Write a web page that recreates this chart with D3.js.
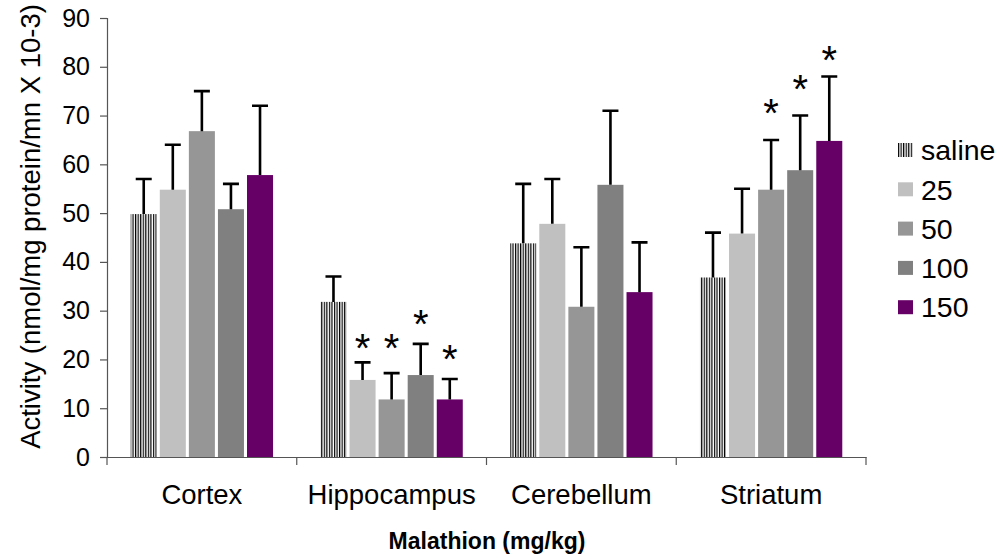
<!DOCTYPE html>
<html>
<head>
<meta charset="utf-8">
<script src="https://cdn.jsdelivr.net/npm/d3@7"></script>
<style>
  body { margin: 0; background: #fff; }
  text { font-family: Arial, "Liberation Sans", sans-serif; }
</style>
</head>
<body>
<div id="chart"></div>
<script>
// categories and series
var regions = ["Cortex", "Hippocampus", "Cerebellum", "Striatum"];
var doses = ["saline", "25", "50", "100", "150"];

// mean activity per dose, one value per region
var saline = [49.8, 31.8, 43.8, 36.8];
var dose25 = [54.8, 15.8, 47.8, 45.8];
var dose50 = [66.8, 11.8, 30.8, 54.8];
var dose100 = [50.8, 16.8, 55.8, 58.8];
var dose150 = [57.8, 11.8, 33.8, 64.8];

// standard deviation (upper error bar)
var sdSaline = [7.2, 5.2, 12.2, 9.2];
var sd25 = [9.2, 3.6, 9.2, 9.2];
var sd50 = [8.2, 5.4, 12.2, 10.2];
var sd100 = [5.2, 6.4, 15.2, 11.2];
var sd150 = [14.2, 4.2, 10.2, 13.2];

// significance marks: region, dose, height of the asterisk
var stars = [
  {region: "Hippocampus", dose: "25", y: 23.6},
  {region: "Hippocampus", dose: "50", y: 23.6},
  {region: "Hippocampus", dose: "100", y: 28.5},
  {region: "Hippocampus", dose: "150", y: 21.3},
  {region: "Striatum", dose: "50", y: 71.7},
  {region: "Striatum", dose: "100", y: 76.6},
  {region: "Striatum", dose: "150", y: 82.6}
];

var yTicks = [0, 10, 20, 30, 40, 50, 60, 70, 80, 90];

var means = [saline, dose25, dose50, dose100, dose150];
var sds = [sdSaline, sd25, sd50, sd100, sd150];
var colors = ["url(#stripes)", "#c0c0c0", "#969696", "#808080", "#660066"];

var data = [];
regions.forEach(function(r, i) {
  doses.forEach(function(d, j) {
    data.push({region: r, dose: d, value: means[j][i], sd: sds[j][i], fill: colors[j]});
  });
});

var margin = {top: 18, right: 137, bottom: 102, left: 107},
    width = 1003 - margin.left - margin.right,
    height = 559 - margin.top - margin.bottom;

var svg = d3.select("#chart").append("svg")
  .attr("width", 1003)
  .attr("height", 559);

var defs = svg.append("defs");
var pat = defs.append("pattern")
  .attr("id", "stripes")
  .attr("patternUnits", "userSpaceOnUse")
  .attr("width", 2.55)
  .attr("height", 10);
pat.append("rect").attr("width", 2.55).attr("height", 10).attr("fill", "#fff");
pat.append("rect").attr("width", 1.2).attr("height", 10).attr("fill", "#000");

var g = svg.append("g")
  .attr("transform", "translate(" + margin.left + "," + margin.top + ")");

var x0 = d3.scaleBand().domain(regions).range([0, width]).padding(0);
var x1 = d3.scaleBand().domain(doses)
  .range([x0.bandwidth() * 0.125, x0.bandwidth() * 0.875])
  .paddingInner(0.105);
var y = d3.scaleLinear().domain([0, 90]).range([height, 0]);

// bars
g.selectAll(".bar")
  .data(data)
  .enter().append("rect")
  .attr("class", "bar")
  .attr("x", function(d) { return x0(d.region) + x1(d.dose); })
  .attr("y", function(d) { return y(d.value); })
  .attr("width", x1.bandwidth())
  .attr("height", function(d) { return height - y(d.value); })
  .attr("fill", function(d) { return d.fill; });

// error bars
var capW = 16;
g.selectAll(".err")
  .data(data)
  .enter().append("path")
  .attr("class", "err")
  .attr("d", function(d) {
    var cx = x0(d.region) + x1(d.dose) + x1.bandwidth() / 2;
    var top = y(d.value + d.sd);
    return "M" + cx + "," + y(d.value) + "V" + top +
      "M" + (cx - capW / 2) + "," + top + "H" + (cx + capW / 2);
  })
  .attr("stroke", "#000")
  .attr("stroke-width", 2.6)
  .attr("fill", "none");

// asterisks
g.selectAll(".star")
  .data(stars)
  .enter().append("text")
  .attr("class", "star")
  .attr("x", function(d) { return x0(d.region) + x1(d.dose) + x1.bandwidth() / 2; })
  .attr("y", function(d) { return y(d.y); })
  .attr("dy", "0.5em")
  .attr("text-anchor", "middle")
  .style("font-size", "40px")
  .text("*");

// y axis
var yAxis = g.append("g")
  .call(d3.axisLeft(y).tickValues(yTicks).tickSize(7).tickPadding(10));
yAxis.select(".domain").attr("stroke", "#555").attr("stroke-width", 1.2);
yAxis.selectAll(".tick line").attr("stroke", "#555").attr("stroke-width", 1.2);
yAxis.selectAll("text").style("font-size", "25px").attr("fill", "#000");

// x axis
var xAxis = g.append("g")
  .attr("transform", "translate(0," + height + ")")
  .call(d3.axisBottom(x0).tickSize(0).tickPadding(27));
xAxis.select(".domain").attr("stroke", "#555").attr("stroke-width", 1.2);
xAxis.selectAll("text").style("font-size", "27.5px").attr("fill", "#000");
// category separator ticks
g.selectAll(".sep")
  .data(regions.concat(["end"]))
  .enter().append("line")
  .attr("class", "sep")
  .attr("x1", function(d, i) { return i * x0.step(); })
  .attr("x2", function(d, i) { return i * x0.step(); })
  .attr("y1", height)
  .attr("y2", height + 8)
  .attr("stroke", "#555")
  .attr("stroke-width", 1.2);

// axis titles
svg.append("text")
  .attr("transform", "rotate(-90)")
  .attr("x", -(margin.top + height / 2) + 11)
  .attr("y", 40)
  .style("text-anchor", "middle")
  .style("font-size", "27.5px")
  .text("Activity (nmol/mg protein/mn X 10-3)");

svg.append("text")
  .attr("x", 487)
  .attr("y", 549)
  .style("text-anchor", "middle")
  .style("font-size", "23px")
  .style("font-weight", "bold")
  .text("Malathion (mg/kg)");

// legend
var legend = svg.append("g").attr("transform", "translate(898,150)");
var item = legend.selectAll(".leg")
  .data(doses)
  .enter().append("g")
  .attr("class", "leg")
  .attr("transform", function(d, i) { return "translate(0," + (i * 39.3) + ")"; });
item.append("rect")
  .attr("x", 0).attr("y", -7)
  .attr("width", 15).attr("height", 14)
  .attr("fill", function(d, i) { return colors[i]; });
item.append("text")
  .attr("x", 23)
  .attr("dy", "0.36em")
  .style("font-size", "28.5px")
  .text(function(d) { return d; });
</script>
</body>
</html>
